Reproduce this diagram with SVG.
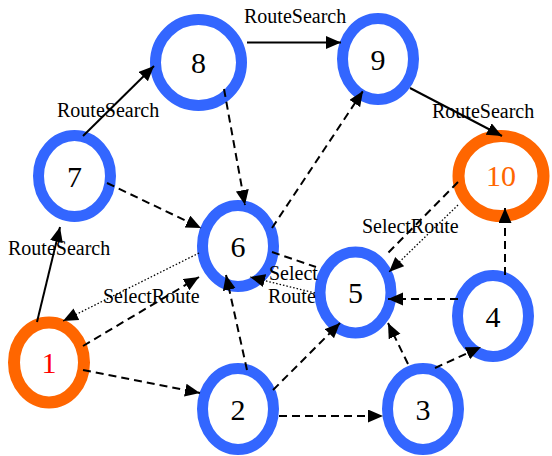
<svg xmlns="http://www.w3.org/2000/svg" width="552" height="456" viewBox="0 0 552 456">
  <defs>
    <marker id="arrow" markerUnits="userSpaceOnUse" markerWidth="16" markerHeight="14" refX="15" refY="6.5" orient="auto">
      <path d="M0,0 L15,6.5 L0,13 z" fill="#000"/>
    </marker>
    <style>
      .ring-blue { fill: #fff; stroke: #3366FF; stroke-width: 11; }
      .ring-orange { fill: #fff; stroke: #FF6600; stroke-width: 12; }
      .num { font-family: "Liberation Serif", "Times New Roman", serif; font-size: 30px; text-anchor: middle; fill: #000; }
      .label { font-family: "Liberation Serif", "Times New Roman", serif; font-size: 20px; fill: #000; }
      .solid { stroke: #000; stroke-width: 2; fill: none; }
      .dashed { stroke: #000; stroke-width: 2; fill: none; stroke-dasharray: 8 5; }
      .dotted { stroke: #000; stroke-width: 1.3; fill: none; stroke-dasharray: 1.5 2; }
    </style>
  </defs>
  <rect width="552" height="456" fill="#fff"/>

  <!-- nodes -->
  <g id="node1"><ellipse class="ring-orange" cx="49" cy="362.5" rx="35" ry="40"/><text class="num" x="49" y="373" style="fill:#FF0000">1</text></g>
  <g id="node2"><ellipse class="ring-blue" cx="238" cy="409" rx="35.5" ry="40.5"/><text class="num" x="238" y="419.5">2</text></g>
  <g id="node3"><ellipse class="ring-blue" cx="423" cy="409" rx="35.5" ry="40.5"/><text class="num" x="423" y="419.5">3</text></g>
  <g id="node4"><ellipse class="ring-blue" cx="493" cy="316" rx="35.5" ry="40.5"/><text class="num" x="493" y="326.5">4</text></g>
  <g id="node5"><ellipse class="ring-blue" cx="355.5" cy="292.5" rx="35.5" ry="40.5"/><text class="num" x="355.5" y="303">5</text></g>
  <g id="node6"><ellipse class="ring-blue" cx="238" cy="246" rx="35.5" ry="40.5"/><text class="num" x="238" y="256.5">6</text></g>
  <g id="node7"><ellipse class="ring-blue" cx="74.5" cy="176" rx="36" ry="40.5"/><text class="num" x="74.5" y="187">7</text></g>
  <g id="node8"><ellipse class="ring-blue" cx="198.5" cy="62.5" rx="43" ry="43"/><text class="num" x="198.5" y="72.5">8</text></g>
  <g id="node9"><ellipse class="ring-blue" cx="378" cy="59" rx="35.5" ry="40.5"/><text class="num" x="378" y="69.5">9</text></g>
  <g id="node10"><ellipse class="ring-orange" cx="501" cy="176" rx="42.5" ry="40"/><text class="num" x="501" y="186" style="fill:#FF6600">10</text></g>

  <!-- connectors -->
  <g id="edges">
    <!-- route search chain -->
    <line class="solid" x1="37" y1="322" x2="60" y2="227" marker-end="url(#arrow)"/>
    <line class="solid" x1="83" y1="136" x2="154" y2="66" marker-end="url(#arrow)"/>
    <line class="solid" x1="247" y1="42.5" x2="341" y2="42.5" marker-end="url(#arrow)"/>
    <line class="solid" x1="410" y1="88" x2="502" y2="136" marker-end="url(#arrow)"/>

    <!-- dashed links -->
    <line class="dashed" x1="107" y1="183" x2="201" y2="228" marker-end="url(#arrow)"/>
    <line class="dashed" x1="224" y1="89" x2="245" y2="205" marker-end="url(#arrow)"/>
    <line class="dashed" x1="272" y1="228" x2="363" y2="91" marker-end="url(#arrow)"/>
    <line class="dashed" x1="272" y1="252" x2="316" y2="267"/>
    <line class="dashed" x1="83" y1="346" x2="199" y2="277" marker-end="url(#arrow)"/>
    <line class="dashed" x1="83" y1="370" x2="200" y2="393" marker-end="url(#arrow)"/>
    <line class="dashed" x1="247" y1="370" x2="226" y2="275" marker-end="url(#arrow)"/>
    <line class="dashed" x1="273" y1="390" x2="340" y2="323" marker-end="url(#arrow)"/>
    <line class="dashed" x1="279" y1="416" x2="383" y2="416" marker-end="url(#arrow)"/>
    <line class="dashed" x1="408" y1="364" x2="388" y2="323" marker-end="url(#arrow)"/>
    <line class="dashed" x1="435" y1="368" x2="481" y2="347" marker-end="url(#arrow)"/>
    <line class="dashed" x1="458" y1="299" x2="388" y2="299" marker-end="url(#arrow)"/>
    <line class="dashed" x1="505" y1="275" x2="505" y2="208" marker-end="url(#arrow)"/>
    <line class="dashed" x1="458" y1="182" x2="386" y2="255"/>

    <!-- dotted route selection -->
    <line class="dotted" x1="199" y1="253" x2="63" y2="321" marker-end="url(#arrow)"/>
    <line class="dotted" x1="315" y1="293" x2="250" y2="277" marker-end="url(#arrow)"/>
    <line class="dotted" x1="458" y1="205" x2="389" y2="272" marker-end="url(#arrow)"/>
  </g>

  <!-- edge labels -->
  <g id="labels">
    <text class="label" x="8" y="255">RouteSearch</text>
    <text class="label" x="57" y="117">RouteSearch</text>
    <text class="label" x="244" y="23">RouteSearch</text>
    <text class="label" x="432" y="118">RouteSearch</text>
    <text class="label" x="362" y="233">SelectRoute</text>
    <text class="label" x="103" y="303">SelectRoute</text>
    <text class="label" x="269" y="280">Select</text>
    <text class="label" x="268" y="303">Route</text>
  </g>
</svg>
